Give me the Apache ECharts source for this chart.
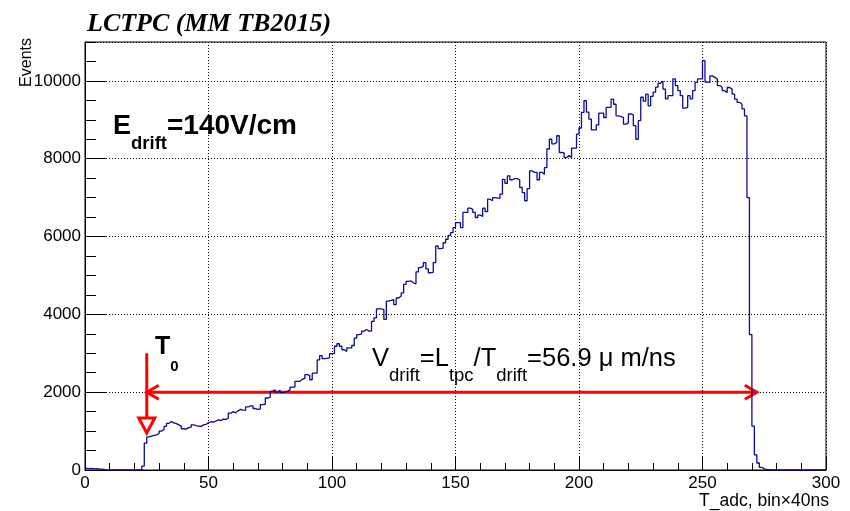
<!DOCTYPE html>
<html>
<head>
<meta charset="utf-8">
<script src="https://cdn.jsdelivr.net/npm/echarts@6/dist/echarts.min.js"></script>
<style>
  html, body { margin: 0; padding: 0; background: #fff; }
  #chart { width: 850px; height: 511px; }
</style>
</head>
<body>
<div id="chart"></div>
<script>
// Drift-time spectrum, one entry per ADC time bin (bin width 1 = 40 ns), bins 0..299
const binWidth = 1;
const counts = [
  40, 35, 40, 30, 35, 25, 20, 10, 5, 0,
  0, 0, 0, 0, 0, 0, 0, 0, 0, 0,
  0, 0, 0, 100, 690, 850, 870, 890, 900, 940,
  1000, 1040, 1120, 1200, 1245, 1210, 1190, 1160, 1120, 1060,
  1050, 1090, 1100, 1160, 1140, 1130, 1120, 1160, 1170, 1220,
  1240, 1230, 1260, 1290, 1270, 1310, 1300, 1330, 1460, 1500,
  1470, 1520, 1560, 1540, 1530, 1620, 1650, 1650, 1580, 1560,
  1570, 1680, 1690, 1850, 1870, 2020, 2060, 2000, 2050, 1990,
  2000, 2020, 2060, 2130, 2130, 2280, 2280, 2330, 2360, 2450,
  2430, 2320, 2490, 2490, 2830, 2940, 2860, 2870, 2880, 2990,
  3000, 3180, 3245, 3180, 3090, 3050, 3140, 3140, 3200, 3390,
  3480, 3500, 3570, 3610, 3570, 3570, 3820, 3910, 4140, 4140,
  4120, 3870, 4340, 4360, 4380, 4250, 4420, 4470, 4550, 4770,
  4850, 4860, 4810, 4780, 5090, 5200, 5240, 5330, 5170, 5070,
  5080, 5330, 5760, 5690, 5700, 5840, 5930, 6030, 6100, 6230,
  6360, 6360, 6230, 6620, 6620, 6730, 6700, 6620, 6490, 6550,
  6520, 6730, 6640, 6960, 6920, 7000, 6990, 6980, 7090, 7470,
  7370, 7560, 7460, 7490, 7490, 7460, 7260, 7130, 6920, 7230,
  7690, 7650, 7650, 7460, 7650, 7600, 7770, 8250, 8500, 8380,
  8420, 8590, 8160, 8150, 8030, 8080, 8030, 8270, 8270, 8630,
  8790, 9190, 9490, 9200, 9020, 8740, 8740, 8870, 9170, 9170,
  9060, 9320, 9320, 9530, 9400, 9100, 9080, 9060, 8890, 8920,
  9150, 9130, 8850, 8500, 8980, 9580, 9480, 9660, 9360, 9600,
  9710, 9840, 9940, 9990, 9790, 9540, 9620, 9620, 10050, 9880,
  9750, 9620, 9300, 9320, 9620, 9540, 9750, 9960, 10050, 10050,
  10520, 9970, 9960, 10130, 10090, 10050, 9880, 9830, 9750, 9700,
  9830, 9790, 9660, 9530, 9450, 9400, 9280, 9100, 7000, 3480,
  1130, 390, 180, 70, 30, 15, 8, 5, 0, 0,
  0, 0, 0, 0, 0, 0, 0, 0, 0, 0,
  0, 0, 0, 0, 0, 0, 0, 0, 0, 0
];

// Axis ranges and tick steps
const xRange = [0, 300];
const xMajorStep = 50;
const xMinorSplit = 5;
const yRange = [0, 11000];
const yMajorStep = 2000;
const yMinorStep = 500;

// Drift-length arrow: from T0 to the cathode edge, drawn at a fixed count level
const t0Bin = 25;
const endBin = 272;
const arrowLevel = 2000;
const t0ArrowTop = 3000;
const t0ArrowTip = 950;

const FONT = '"Liberation Sans", Arial, Helvetica, sans-serif';
const RED = '#ff0000';

// Histogram outline: each bin drawn flat from its low edge, closed at the last high edge
const histData = counts.map((c, i) => [i * binWidth, c]);
histData.push([counts.length * binWidth, counts[counts.length - 1]]);

// Lay out a row of text pieces with ROOT-like subscripts on a common baseline
const measureCtx = document.createElement('canvas').getContext('2d');
function textRow(x0, baseline, weight, parts) {
  const els = [];
  let x = x0;
  for (const p of parts) {
    const font = `${weight} ${p.size}px ${FONT}`;
    measureCtx.font = font;
    const w = measureCtx.measureText(p.text).width;
    const b = baseline + (p.dy || 0);
    els.push({
      type: 'text', silent: true, z: 10,
      style: { text: p.text, x: x, y: b - 0.31 * p.size, font: font, fill: '#000',
               align: 'left', verticalAlign: 'middle' }
    });
    x += w;
  }
  return els;
}

const graphics = [].concat(
  [{
    type: 'text', silent: true,
    style: { text: 'LCTPC (MM TB2015)', x: 87, y: 32 - 0.305 * 26,
             font: 'italic bold 26px "Liberation Serif", "Times New Roman", serif',
             fill: '#000', align: 'left', verticalAlign: 'middle' }
  },
  {
    type: 'text', silent: true, x: 27, y: 38, rotation: Math.PI / 2,
    style: { text: 'Events', font: `16px ${FONT}`, fill: '#000',
             align: 'right', verticalAlign: 'middle' }
  },
  {
    type: 'text', silent: true,
    style: { text: 'T_adc, bin\u00d740ns', x: 829, y: 501, font: `17.5px ${FONT}`,
             fill: '#000', align: 'right', verticalAlign: 'middle' }
  }],
  textRow(113, 135, 'bold', [
    { text: 'E', size: 27 },
    { text: 'drift', size: 18.5, dy: 15 },
    { text: '=140V/cm', size: 28 }
  ]),
  textRow(155, 355, 'bold', [
    { text: 'T', size: 25 },
    { text: '0', size: 15, dy: 17 }
  ]),
  textRow(372, 367, 'normal', [
    { text: 'V', size: 25.5 },
    { text: 'drift', size: 18.5, dy: 15 },
    { text: '=L', size: 25.5 },
    { text: 'tpc', size: 18.5, dy: 15 },
    { text: '/T', size: 25.5 },
    { text: 'drift', size: 18.5, dy: 15 },
    { text: '=56.9 \u03bc m/ns', size: 25.5 }
  ])
);

const chart = echarts.init(document.getElementById('chart'), null, { renderer: 'canvas' });

chart.setOption({
  animation: false,
  backgroundColor: '#fff',
  grid: {
    left: 85, right: 24, top: 42, bottom: 41,
    show: true, borderColor: '#000', borderWidth: 1, backgroundColor: 'transparent'
  },
  xAxis: {
    type: 'value', min: xRange[0], max: xRange[1], interval: xMajorStep,
    axisLine: { show: true, onZero: false, lineStyle: { color: '#000', width: 1 } },
    axisTick: { show: true, inside: true, length: 13, lineStyle: { color: '#000', width: 1 } },
    minorTick: { show: true, splitNumber: xMinorSplit, length: 7, lineStyle: { color: '#000', width: 1 } },
    splitLine: { show: true, lineStyle: { color: '#000', width: 1, type: [1, 2] } },
    axisLabel: { fontSize: 17, fontFamily: FONT, color: '#000', margin: 5 }
  },
  yAxis: [
    {
      type: 'value', min: yRange[0], max: yRange[1], interval: yMajorStep,
      axisLine: { show: true, onZero: false, lineStyle: { color: '#000', width: 1 } },
      axisTick: { show: true, inside: true, length: 22, lineStyle: { color: '#000', width: 1 } },
      splitLine: { show: true, lineStyle: { color: '#000', width: 1, type: [1, 2] } },
      axisLabel: { fontSize: 17, fontFamily: FONT, color: '#000', margin: 4, showMaxLabel: false,
                   formatter: v => (v % yMajorStep === 0 ? String(v) : '') }
    },
    {
      type: 'value', min: yRange[0], max: yRange[1], interval: yMinorStep, position: 'left',
      axisLine: { show: false },
      axisTick: { show: true, inside: true, length: 11, lineStyle: { color: '#000', width: 1 } },
      splitLine: { show: false },
      axisLabel: { show: false }
    }
  ],
  graphic: graphics,
  series: [
    {
      type: 'custom', silent: true, z: 3, clip: false,
      xAxisIndex: 0, yAxisIndex: 0,
      data: [[t0Bin, arrowLevel]],
      renderItem: function (params, api) {
        const top = api.coord([t0Bin, t0ArrowTop]);
        const tip = api.coord([t0Bin, t0ArrowTip]);
        const left = api.coord([t0Bin, arrowLevel]);
        const right = api.coord([endBin, arrowLevel]);
        const lw = 3, headH = 15, headW = 8, armL = 12, armH = 7;
        const stroke = { stroke: RED, lineWidth: lw, fill: null };
        return {
          type: 'group',
          children: [
            { type: 'line', shape: { x1: top[0], y1: top[1], x2: tip[0], y2: tip[1] - headH }, style: stroke },
            { type: 'polygon',
              shape: { points: [[tip[0] - headW, tip[1] - headH], [tip[0] + headW, tip[1] - headH], [tip[0], tip[1]]] },
              style: { stroke: RED, lineWidth: lw, fill: '#ffffff', lineJoin: 'miter' } },
            { type: 'line', shape: { x1: left[0], y1: left[1], x2: right[0], y2: right[1] }, style: stroke },
            { type: 'polyline',
              shape: { points: [[left[0] + armL, left[1] - armH], [left[0], left[1]], [left[0] + armL, left[1] + armH]] },
              style: stroke },
            { type: 'polyline',
              shape: { points: [[right[0] - armL, right[1] - armH], [right[0], right[1]], [right[0] - armL, right[1] + armH]] },
              style: stroke }
          ]
        };
      }
    },
    {
      type: 'line', step: 'end', data: histData, xAxisIndex: 0, yAxisIndex: 0,
      symbol: 'none', showSymbol: false, silent: true, z: 4,
      lineStyle: { color: '#0c0c96', width: 1.3 }
    }
  ]
});
</script>
</body>
</html>
